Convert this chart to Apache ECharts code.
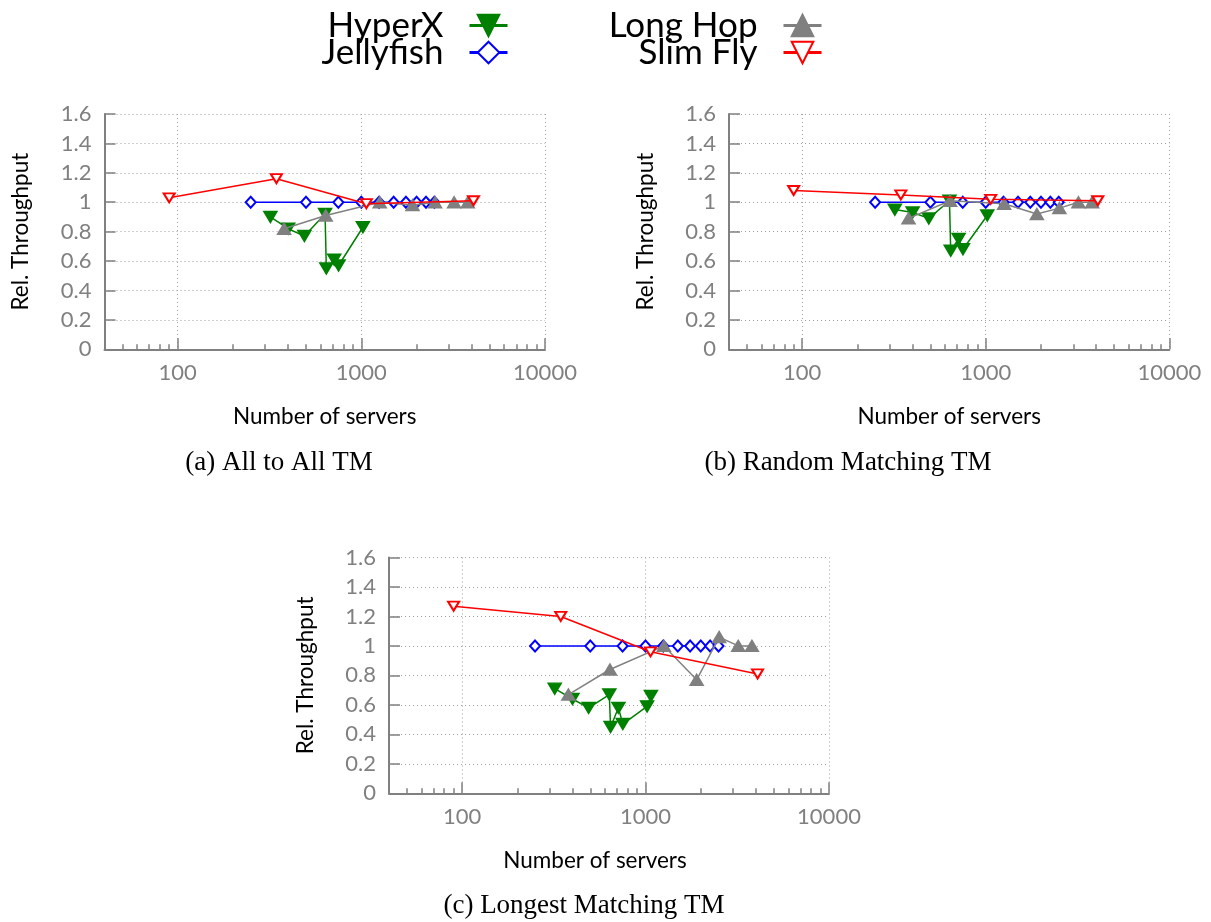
<!DOCTYPE html>
<html>
<head>
<meta charset="utf-8">
<script src="https://cdn.jsdelivr.net/npm/echarts@6/dist/echarts.min.js"></script>
<style>
html,body{margin:0;padding:0;background:#fff;}
#chart{width:1211px;height:922px;}
</style>
</head>
<body>
<div id="chart"></div>
<script>
// ---------------- data ----------------
const seriesNames = ['HyperX', 'Jellyfish', 'Long Hop', 'Slim Fly'];
const panelCaptions = ['(a) All to All TM', '(b) Random Matching TM', '(c) Longest Matching TM'];
const xAxisTitle = 'Number of servers';
const yAxisTitle = 'Rel. Throughput';
const xMajorTicks = [100, 1000, 10000];
const xMinorTicks = [50, 60, 70, 80, 90, 200, 300, 400, 500, 600, 700, 800, 900,
                     2000, 3000, 4000, 5000, 6000, 7000, 8000, 9000];

const hyperxServers = [320, 400, 490, 635, 645, 712, 752, 1020, 1070];
const hyperxA = [0.90, 0.82, 0.77, 0.92, 0.55, 0.61, 0.57, 0.83, '-'];
const hyperxB = [0.95, 0.93, 0.89, 1.01, 0.67, 0.75, 0.68, 0.91, '-'];
const hyperxC = [0.71, 0.64, 0.58, 0.67, 0.45, 0.58, 0.47, 0.59, 0.66];

const jellyfishServers = [250, 500, 750, 1000, 1250, 1500, 1750, 2000, 2250, 2500];
const jellyfishA = [1, 1, 1, 1, 1, 1, 1, 1, 1, 1];
const jellyfishB = [1, 1, 1, 1, 1, 1, 1, 1, 1, 1];
const jellyfishC = [1, 1, 1, 1, 1, 1, 1, 1, 1, 1];

const longHopServers = [380, 640, 1260, 1900, 2520, 3200, 3800];
const longHopA = [0.82, 0.91, 1.00, 0.98, 1.00, 1.00, 1.00];
const longHopB = [0.89, 1.01, 0.99, 0.92, 0.96, 1.00, 1.00];
const longHopC = [0.67, 0.84, 1.00, 0.77, 1.06, 1.00, 1.00];

const slimFlyServers = [90, 345, 1065, 4080];
const slimFlyA = [1.03, 1.16, 0.99, 1.01];
const slimFlyB = [1.08, 1.05, 1.02, 1.01];
const slimFlyC = [1.27, 1.20, 0.96, 0.81];

// ---------------- layout / style ----------------
const FONT = 'Lato';
const GRAY = '#808080';
const panelLayout = [
  { left: 104.5, top: 114, width: 440.5, height: 235.3, caption: [279, 463], nameShift: 0 },
  { left: 729, top: 114, width: 440.3, height: 235.3, caption: [848, 463], nameShift: 0 },
  { left: 389, top: 557.5, width: 440, height: 235.8, caption: [584, 906], nameShift: 28 }
];
const panelValues = [
  [hyperxA, jellyfishA, longHopA, slimFlyA],
  [hyperxB, jellyfishB, longHopB, slimFlyB],
  [hyperxC, jellyfishC, longHopC, slimFlyC]
];
const xsByNet = [hyperxServers, jellyfishServers, longHopServers, slimFlyServers];
const netStyle = [
  { color: '#008000', symbol: 'triangle', rotate: 180, size: [13, 11] },
  { color: '#0000ff', symbol: 'emptyDiamond', rotate: 0, size: [10, 11] },
  { color: '#808080', symbol: 'triangle', rotate: 0, size: [13, 11] },
  { color: '#ff0000', symbol: 'emptyTriangle', rotate: 180, size: [11, 9] }
];

const grids = [], xAxes = [], yAxes = [], series = [], graphics = [];
panelLayout.forEach((p, i) => {
  grids.push({ left: p.left, top: p.top, width: p.width, height: p.height, containLabel: false });
  xAxes.push({
    type: 'log', logBase: 10, min: 40, max: 10000, gridIndex: i, position: 'bottom',
    axisLine: { show: true, onZero: false, lineStyle: { color: GRAY, width: 2 } },
    axisTick: { show: true, inside: true, length: 11, customValues: xMajorTicks, lineStyle: { color: GRAY, width: 1.5 } },
    axisLabel: { customValues: xMajorTicks, formatter: v => String(v), color: GRAY, fontSize: 22, fontFamily: FONT, margin: 13 },
    splitLine: { show: true, lineStyle: { color: '#a0a0a0', width: 1, type: [1, 3] } },
    name: xAxisTitle, nameLocation: 'middle', nameGap: 56,
    nameTextStyle: { color: '#000', fontSize: 22.5, fontFamily: FONT, padding: [0, p.nameShift, 0, 0] }
  });
  xAxes.push({
    type: 'log', logBase: 10, min: 40, max: 10000, gridIndex: i, position: 'bottom',
    axisLine: { show: false },
    axisTick: { show: true, inside: true, length: 5, customValues: xMinorTicks, lineStyle: { color: GRAY, width: 1.5 } },
    axisLabel: { show: false },
    splitLine: { show: false }
  });
  yAxes.push({
    type: 'value', min: 0, max: 1.6, interval: 0.2, gridIndex: i,
    axisLine: { show: true, lineStyle: { color: GRAY, width: 2 } },
    axisTick: { show: true, inside: true, length: 11, lineStyle: { color: GRAY, width: 1.5 } },
    axisLabel: { color: GRAY, fontSize: 22, fontFamily: FONT, margin: 13 },
    splitLine: { show: true, lineStyle: { color: '#a0a0a0', width: 1, type: [1, 3] } },
    name: yAxisTitle, nameLocation: 'middle', nameGap: 72,
    nameTextStyle: { color: '#000', fontSize: 22.5, fontFamily: FONT }
  });
  seriesNames.forEach((name, k) => {
    const st = netStyle[k];
    const ys = panelValues[i][k];
    series.push({
      type: 'line', name: name,
      xAxisIndex: i * 2, yAxisIndex: i,
      data: xsByNet[k].map((x, j) => [x, ys[j]]),
      symbol: st.symbol, symbolRotate: st.rotate, symbolSize: st.size,
      showAllSymbol: true, connectNulls: false,
      color: st.color,
      lineStyle: { color: st.color, width: 1.5 },
      itemStyle: { color: st.color, borderColor: st.color, borderWidth: 1.5 },
      emphasis: { disabled: true },
      z: 2 + k
    });
  });
  graphics.push({
    type: 'text', x: p.caption[0], y: p.caption[1],
    style: { text: panelCaptions[i], fill: '#000', font: '27px "Liberation Serif"', textAlign: 'center', textVerticalAlign: 'middle' }
  });
});

const legendRows = [
  { name: 'HyperX', right: 702, top: 8 },
  { name: 'Jellyfish', right: 702, top: 35 },
  { name: 'Long Hop', right: 388, top: 8 },
  { name: 'Slim Fly', right: 388, top: 35 }
];
const legends = legendRows.map(r => ({
  data: [r.name], right: r.right, top: r.top, align: 'right', orient: 'horizontal',
  padding: 0, itemWidth: 38, itemHeight: 27, selectedMode: false,
  lineStyle: { width: 3 },
  textStyle: { color: '#000', fontSize: 35, fontFamily: FONT, lineHeight: 27, padding: [0, 21, 0, 0] }
}));

const chart = echarts.init(document.getElementById('chart'), null, { renderer: 'canvas' });
chart.setOption({
  animation: false,
  backgroundColor: '#fff',
  legend: legends,
  grid: grids,
  xAxis: xAxes,
  yAxis: yAxes,
  series: series,
  graphic: graphics
});
</script>
</body>
</html>
